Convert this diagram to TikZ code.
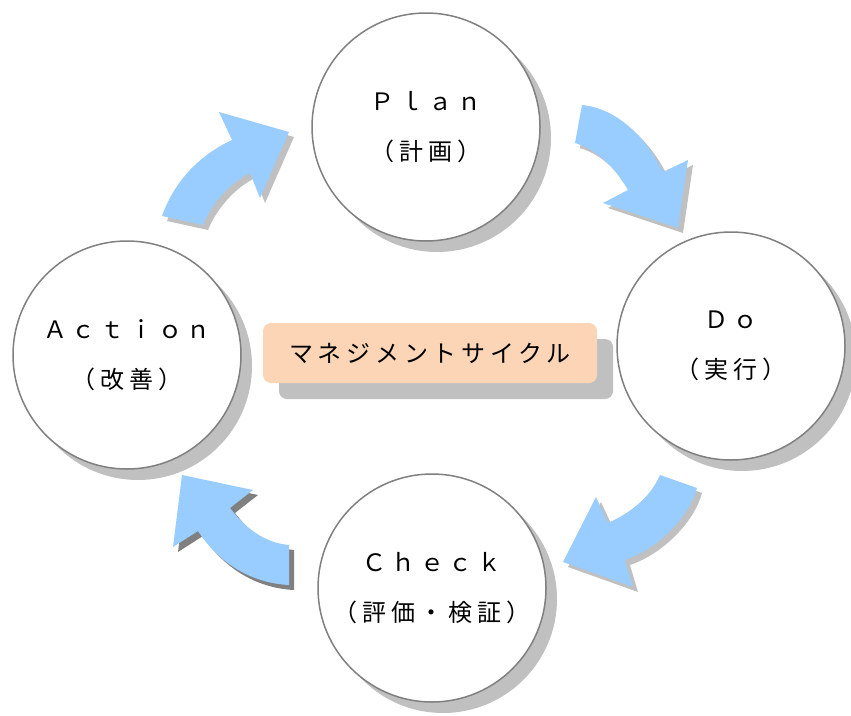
\documentclass[tikz,border=0pt]{standalone}
\usepackage{fontspec}
\newfontfamily\jpfont[LetterSpace=20]{Noto Sans CJK JP}
\usetikzlibrary{shadows}
\definecolor{arrowblue}{HTML}{99CCFF}
\definecolor{lightshadow}{HTML}{C0C0C0}
\definecolor{darkshadow}{HTML}{808080}
\definecolor{rimgray}{HTML}{808080}
\definecolor{peach}{HTML}{FBD5B5}
\begin{document}
\begin{tikzpicture}[x=1pt, y=-1pt,
    every node/.style={font=\jpfont\fontsize{24}{50}\selectfont, align=center},
    phase/.style={circle, draw=rimgray, line width=1.5pt, fill=white, minimum size=228pt, inner sep=0pt,
        drop shadow={shadow xshift=11pt, shadow yshift=-11pt, fill=lightshadow, opacity=1}},
    title/.style={rectangle, rounded corners=8pt, fill=peach, minimum width=334pt, minimum height=60pt,
        drop shadow={shadow xshift=16pt, shadow yshift=-16pt, fill=lightshadow, opacity=1}},
    bentarrow/.style={fill=arrowblue, drop shadow={shadow xshift=5pt, shadow yshift=-5pt, fill=#1, opacity=1}},
    bentarrow/.default=lightshadow]
    \useasboundingbox (0,0) rectangle (851,715);

    % Nodes
    \node[phase] (plan) at (426,127) {Ｐｌａｎ\\（計画）};
    \node[phase] (do) at (731,346) {Ｄｏ\\（実行）};
    \node[phase] (check) at (432,588) {Ｃｈｅｃｋ\\（評価・検証）};
    \node[phase] (action) at (127,355) {Ａｃｔｉｏｎ\\（改善）};
    \node[title] (cycle) at (430,353) {マネジメントサイクル};

    % Arrows
    \fill[bentarrow] (162,216) .. controls (175,180) and (200,155) .. (232,140) -- (219,112) -- (289,132)
        -- (260,198) -- (250,173) .. controls (230,183) and (212,203) .. (203,225) -- cycle;
    \fill[bentarrow] (582,105) .. controls (615,108) and (645,135) .. (663,172) -- (688,160) -- (678,228)
        -- (603,203) -- (628,190) .. controls (615,168) and (598,150) .. (575,143) -- cycle;
    \fill[bentarrow] (697,488) .. controls (690,515) and (660,548) .. (625,560) -- (633,587) -- (563,562)
        -- (596,497) -- (608,523) .. controls (630,513) and (650,498) .. (660,475) -- cycle;
    \fill[bentarrow=darkshadow] (289,585) .. controls (250,583) and (218,562) .. (198,531) -- (173,547) -- (182,475)
        -- (253,490) -- (230,508) .. controls (245,528) and (265,543) .. (289,545) -- cycle;
\end{tikzpicture}
\end{document}
